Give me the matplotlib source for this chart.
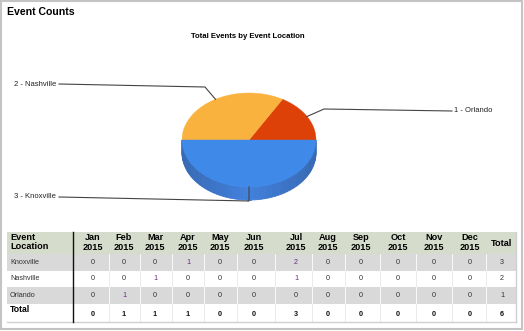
import numpy as np
import matplotlib.pyplot as plt
from matplotlib.colors import to_rgb
from matplotlib.patches import Polygon, Rectangle

plt.rcParams['font.family'] = ['Liberation Sans', 'DejaVu Sans']

# event counts per location and month
locations = ['Knoxville', 'Nashville', 'Orlando']
months = ['Jan', 'Feb', 'Mar', 'Apr', 'May', 'Jun',
          'Jul', 'Aug', 'Sep', 'Oct', 'Nov', 'Dec']
year = 2015
knoxville = [0, 0, 0, 1, 0, 0, 2, 0, 0, 0, 0, 0]
nashville = [0, 0, 1, 0, 0, 0, 1, 0, 0, 0, 0, 0]
orlando = [0, 1, 0, 0, 0, 0, 0, 0, 0, 0, 0, 0]
counts = np.array([knoxville, nashville, orlando])

# pie slices, drawn counter-clockwise from 3 o'clock
pie_names = ['Orlando', 'Nashville', 'Knoxville']
pie_colors = ['#dd4108', '#fab23f', '#3f89e9']
side_colors = ['#b83306', '#d08f2c', '#3574d0']

fig = plt.figure(figsize=(5.24, 3.31), dpi=100)
ax = fig.add_axes([0, 0, 1, 1])
ax.set_xlim(0, 524)
ax.set_ylim(331, 0)
ax.axis('off')

# frame
ax.add_patch(Rectangle((1, 1), 521, 328, fill=False, ec='#c4c4c4', lw=1.5))
ax.text(7, 12, 'Event Counts', fontsize=7.6, fontweight='bold', va='center')
ax.text(248, 36, 'Total Events by Event Location', fontsize=5.6,
        fontweight='bold', ha='center', va='center')

# 3d pie
cx, cy, rx, ry, depth = 249, 140, 67, 47, 13
totals_by_loc = dict(zip(locations, counts.sum(axis=1)))
pie_vals = np.array([totals_by_loc[n] for n in pie_names])
bounds = np.concatenate([[0], np.cumsum(pie_vals) / pie_vals.sum() * 360])


def ell(t, dy=0):
    r = np.radians(t)
    return np.column_stack([cx + rx * np.cos(r), cy - ry * np.sin(r) + dy])


for i in range(len(pie_vals)):
    a0, a1 = bounds[i], bounds[i + 1]
    s0, s1 = max(a0, 180), min(a1, 360)
    if s1 > s0:
        ts = np.linspace(s0, s1, 60)
        base = np.array(to_rgb(side_colors[i]))
        for ta, tb in zip(ts[:-1], ts[1:]):
            shade = 0.8 + 0.2 * (1 - abs(np.cos(np.radians((ta + tb) / 2))))
            c = np.clip(base * shade + 0.05, 0, 1)
            top = ell(np.array([ta, tb]))
            bot = ell(np.array([tb, ta]), depth)
            ax.add_patch(Polygon(np.vstack([top, bot]), fc=c, ec=c,
                                 lw=0.6, zorder=2))
for i in range(len(pie_vals)):
    a0, a1 = bounds[i], bounds[i + 1]
    pts = np.vstack([[cx, cy], ell(np.linspace(a0, a1, 120))])
    ax.add_patch(Polygon(pts, fc=pie_colors[i], ec=pie_colors[i], lw=0.3,
                         zorder=3))

# leader lines and labels
label_pos = {'Orlando': (454, 111, 'left'),
             'Nashville': (14, 84, 'left'),
             'Knoxville': (14, 197, 'left')}
for i, name in enumerate(pie_names):
    mid = (bounds[i] + bounds[i + 1]) / 2
    ax_, ay_ = ell(np.array([mid]))[0]
    tx, ty, ha = label_pos[name]
    if name == 'Orlando':
        path = [(ax_, ay_), (324, 109), (452, ty)]
    elif name == 'Nashville':
        path = [(ax_, ay_), (205, 87), (59, ty)]
    else:
        path = [(ax_, ay_), (ax_, cy + ry + depth + 1), (59, ty)]
    xs, ys = zip(*path)
    ax.plot(xs, ys, color='#444444', lw=0.8, zorder=4)
    ax.text(tx, ty, f'{pie_vals[i]} - {name}', fontsize=5.5, ha=ha,
            va='center', color='#222222')

# table
col_x = [93, 124, 155, 188, 220, 254, 296, 328, 361, 398, 434, 470, 502]
left, right = 7, 516
head_top, head_bot = 232, 254
row_h = 16.5
ax.add_patch(Rectangle((left, head_top), right - left, head_bot - head_top,
                       fc='#d6dccb', ec='none'))
ax.text(10, 237.5, 'Event', fontsize=6.6, fontweight='bold', va='center')
ax.text(10, 246.5, 'Location', fontsize=6.6, fontweight='bold', va='center')
for x, m in zip(col_x, months):
    ax.text(x, 238, m, fontsize=6.6, fontweight='bold', ha='center',
            va='center')
    ax.text(x, 247, str(year), fontsize=6.6, fontweight='bold', ha='center',
            va='center')
ax.text(col_x[-1], 243, 'Total', fontsize=6.6, fontweight='bold',
        ha='center', va='center')

seps = [(a + b) / 2 for a, b in zip(col_x[:-1], col_x[1:])]
row_totals = counts.sum(axis=1)
for r, loc in enumerate(locations):
    y0 = head_bot + r * row_h
    gray = r % 2 == 0
    if gray:
        ax.add_patch(Rectangle((left, y0), right - left, row_h,
                               fc='#d9d9d9', ec='none'))
    for s in seps:
        ax.plot([s, s], [y0, y0 + row_h],
                color='white' if gray else '#e6e6e6', lw=0.6)
    yc = y0 + row_h / 2
    ax.text(10, yc, loc, fontsize=5.2, va='center', color='#333333')
    for x, v in zip(col_x, counts[r]):
        ax.text(x, yc, str(v), fontsize=5.2, ha='center', va='center',
                color='#6a2a7e' if v else '#333333')
    ax.text(col_x[-1], yc, str(row_totals[r]), fontsize=5.2, ha='center',
            va='center', color='#333333')

# total row
y0 = head_bot + len(locations) * row_h
y1 = 322
for s in seps:
    ax.plot([s, s], [y0, y1], color='#e6e6e6', lw=0.6)
ax.text(10, y0 + 5.5, 'Total', fontsize=6.2, fontweight='bold', va='center')
month_totals = counts.sum(axis=0)
for x, v in zip(col_x, list(month_totals) + [month_totals.sum()]):
    ax.text(x, y0 + 10.5, str(v), fontsize=5.2, fontweight='bold',
            ha='center', va='center', color='#111111')

ax.plot([left, right], [y1, y1], color='#d0d0d0', lw=1)
ax.plot([right, right], [head_top, y1], color='#d0d0d0', lw=1)
ax.plot([73, 73], [head_top, y1], color='#111111', lw=1)

fig.savefig('out.png', dpi=100)
